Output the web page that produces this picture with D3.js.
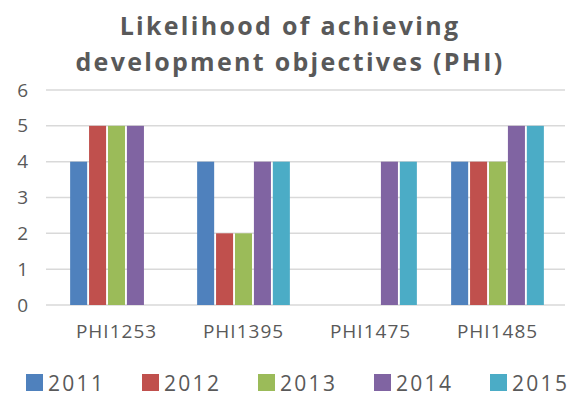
<!DOCTYPE html>
<html>
<head>
<meta charset="utf-8">
<script src="https://cdn.jsdelivr.net/npm/d3@7"></script>
<style>
  body { margin: 0; background: #fff; }
  text { font-family: "Open Sans", "Liberation Sans", sans-serif; fill: #595959; }
</style>
</head>
<body>
<svg id="chart" width="585" height="405"></svg>
<script>
// data
const categories = ['PHI1253', 'PHI1395', 'PHI1475', 'PHI1485'];
const years = ['2011', '2012', '2013', '2014', '2015'];
const values = {
  '2011': [4, 4, null, 4],
  '2012': [5, 2, null, 4],
  '2013': [5, 2, null, 4],
  '2014': [5, 4, 4, 5],
  '2015': [null, 4, 4, 5],
};
const yTicks = [0, 1, 2, 3, 4, 5, 6];
const colors = ['#4F81BD', '#C0504D', '#9BBB59', '#8064A2', '#4BACC6'];
const titleLines = ['Likelihood of achieving', 'development objectives (PHI)'];

const svg = d3.select('#chart');
const plot = { left: 46, right: 565, top: 90, bottom: 305 };

const x0 = d3.scaleBand().domain(categories).range([plot.left + 7, plot.right - 4]).paddingInner(0.24).paddingOuter(0.12);
const x1 = d3.scaleBand().domain(years).range([0, x0.bandwidth()]).padding(0.1);
const y = d3.scaleLinear().domain([0, 6]).range([plot.bottom, plot.top]);
const color = d3.scaleOrdinal().domain(years).range(colors);

// title
svg.append('g').selectAll('text').data(titleLines).enter().append('text')
  .attr('x', 290)
  .attr('y', (d, i) => 35 + i * 36)
  .attr('text-anchor', 'middle')
  .style('font-size', '25px')
  .style('font-weight', 'bold')
  .style('letter-spacing', '2.3px')
  .text(d => d);

// gridlines
svg.append('g').selectAll('line').data(yTicks).enter().append('line')
  .attr('x1', plot.left).attr('x2', plot.right)
  .attr('y1', d => y(d)).attr('y2', d => y(d))
  .attr('stroke', '#d9d9d9')
  .attr('stroke-width', 1.5);

// y axis labels
const yAxis = d3.axisLeft(y).tickValues(yTicks).tickFormat(d3.format('d')).tickSize(0).tickPadding(0);
svg.append('g').attr('transform', 'translate(28,0)').call(yAxis)
  .call(g => g.select('.domain').remove())
  .selectAll('text').style('font-size', '19px').attr('fill', '#595959');

// bars
const groups = svg.append('g').selectAll('g').data(categories).enter().append('g')
  .attr('transform', d => `translate(${x0(d)},0)`);
groups.selectAll('rect')
  .data((c, ci) => years.map(yr => ({ yr, v: values[yr][ci] })).filter(d => d.v !== null))
  .enter().append('rect')
  .attr('x', d => x1(d.yr))
  .attr('width', x1.bandwidth())
  .attr('y', d => y(d.v))
  .attr('height', d => y(0) - y(d.v))
  .attr('fill', d => color(d.yr));

// x axis labels
const xAxis = d3.axisBottom(x0).tickSize(0).tickPadding(0);
svg.append('g').attr('transform', `translate(0,${plot.bottom + 33})`).call(xAxis)
  .call(g => g.select('.domain').remove())
  .selectAll('text').style('font-size', '19px').style('letter-spacing', '1px')
  .attr('fill', '#595959').attr('dy', '0');

// legend
const legendX = d3.scaleBand().domain(years).range([22, 602]);
const legend = svg.append('g').selectAll('g').data(years).enter().append('g')
  .attr('transform', d => `translate(${legendX(d) + 4},383)`);
legend.append('rect')
  .attr('x', 0).attr('y', -9).attr('width', 17).attr('height', 17)
  .attr('fill', d => color(d));
legend.append('text')
  .attr('x', 22).attr('y', 8)
  .style('font-size', '21px')
  .style('letter-spacing', '2.3px')
  .text(d => d);
</script>
</body>
</html>
